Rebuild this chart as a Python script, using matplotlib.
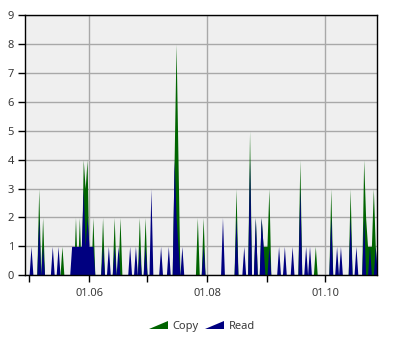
import pandas as pd
import matplotlib
matplotlib.use("Agg")
import matplotlib.pyplot as plt
import matplotlib.dates as mdates
from matplotlib.legend_handler import HandlerBase
from matplotlib.patches import Polygon, Patch

# daily counts, days not listed are 0
start = "2014-04-29"
end = "2014-10-28"

copy_dates = ["05-06", "05-08", "05-18", "05-25", "05-27", "05-29", "05-30", "05-31",
              "06-03", "06-08", "06-14", "06-17", "06-27", "06-30", "07-15", "07-16",
              "07-17", "07-27", "07-30", "08-16", "08-23", "08-26", "08-29", "08-30",
              "08-31", "09-01", "09-02", "09-18", "09-26", "10-04", "10-14", "10-21",
              "10-22", "10-23", "10-24", "10-25", "10-26", "10-27"]
copy_vals = [3, 2, 1, 2, 2, 4, 3, 4,
             2, 2, 2, 2, 2, 2, 4, 8,
             4, 2, 2, 3, 5, 2, 2, 1,
             1, 1, 3, 4, 1, 3, 3, 4,
             2, 1, 1, 1, 3, 1]

read_dates = ["05-02", "05-06", "05-08", "05-13", "05-16", "05-23", "05-24", "05-25",
              "05-26", "05-27", "05-28", "05-29", "05-30", "05-31", "06-01", "06-02",
              "06-03", "06-08", "06-11", "06-14", "06-16", "06-22", "06-25", "06-27",
              "06-30", "07-03", "07-08", "07-12", "07-15", "07-16", "07-17", "07-19",
              "07-30", "08-09", "08-16", "08-20", "08-23", "08-26", "08-29", "08-30",
              "09-02", "09-07", "09-10", "09-14", "09-18", "09-21", "09-23", "10-04",
              "10-07", "10-09", "10-14", "10-17", "10-21", "10-24", "10-27"]
read_vals = [1, 2, 1, 1, 1, 1, 1, 1,
             1, 1, 1, 3, 1, 2, 1, 1,
             1, 1, 1, 1, 1, 1, 1, 1,
             1, 3, 1, 1, 4, 2, 1, 1,
             1, 2, 2, 1, 4, 2, 2, 1,
             1, 1, 1, 1, 3, 1, 1, 2,
             1, 1, 2, 1, 2, 1, 1]

days = pd.date_range(start, end, freq="D")


def to_series(dates, vals):
    s = pd.Series(0.0, index=days)
    s[pd.to_datetime(["2014-" + d for d in dates])] = vals
    return s


copy = to_series(copy_dates, copy_vals)
read = to_series(read_dates, read_vals)

green = "#006400"
blue = "#000080"


class Ramp(HandlerBase):
    def create_artists(self, legend, orig, xd, yd, w, h, fontsize, trans):
        p = Polygon([[xd, yd], [xd + w, yd], [xd + w, yd + h]], closed=True,
                    fc=orig.get_facecolor(), ec="none", transform=trans)
        return [p]


plt.rcParams["font.family"] = ["Noto Sans", "DejaVu Sans"]

fig = plt.figure(figsize=(4, 3.5), dpi=100)
ax = fig.add_axes([0.063, 0.2134, 0.88, 0.7437])
ax.set_facecolor("#efefef")

ax.fill_between(copy.index, copy.values, color=green, linewidth=0)
ax.fill_between(read.index, read.values, color=blue, linewidth=0)

ax.set_xlim(days[0], days[-1])
ax.set_ylim(0, 9)
ax.set_yticks(range(10))

ax.xaxis.set_major_locator(mdates.MonthLocator(bymonth=[6, 8, 10]))
ax.xaxis.set_major_formatter(mdates.DateFormatter("%d.%m"))
ax.xaxis.set_minor_locator(mdates.MonthLocator(bymonth=[5, 7, 9]))

ax.grid(True, which="major", color="#a8a8a8", linewidth=1)
ax.set_axisbelow(True)
for sp in ax.spines.values():
    sp.set_color("black")
    sp.set_linewidth(1)

ax.tick_params(axis="both", which="both", length=5, width=1, color="black",
               labelsize=8, labelcolor="#3a3a3a")
ax.tick_params(axis="x", pad=4)
ax.tick_params(axis="y", pad=3)

handles = [Patch(facecolor=green), Patch(facecolor=blue)]
fig.legend(handles, ["Copy", "Read"], loc="center", bbox_to_anchor=(0.505, 0.066),
           ncol=2, frameon=False, fontsize=8, handlelength=1.7, handleheight=0.75,
           handletextpad=0.4, columnspacing=0.6, handler_map={Patch: Ramp()},
           labelcolor="#3a3a3a")

fig.savefig("out.png", dpi=100)
